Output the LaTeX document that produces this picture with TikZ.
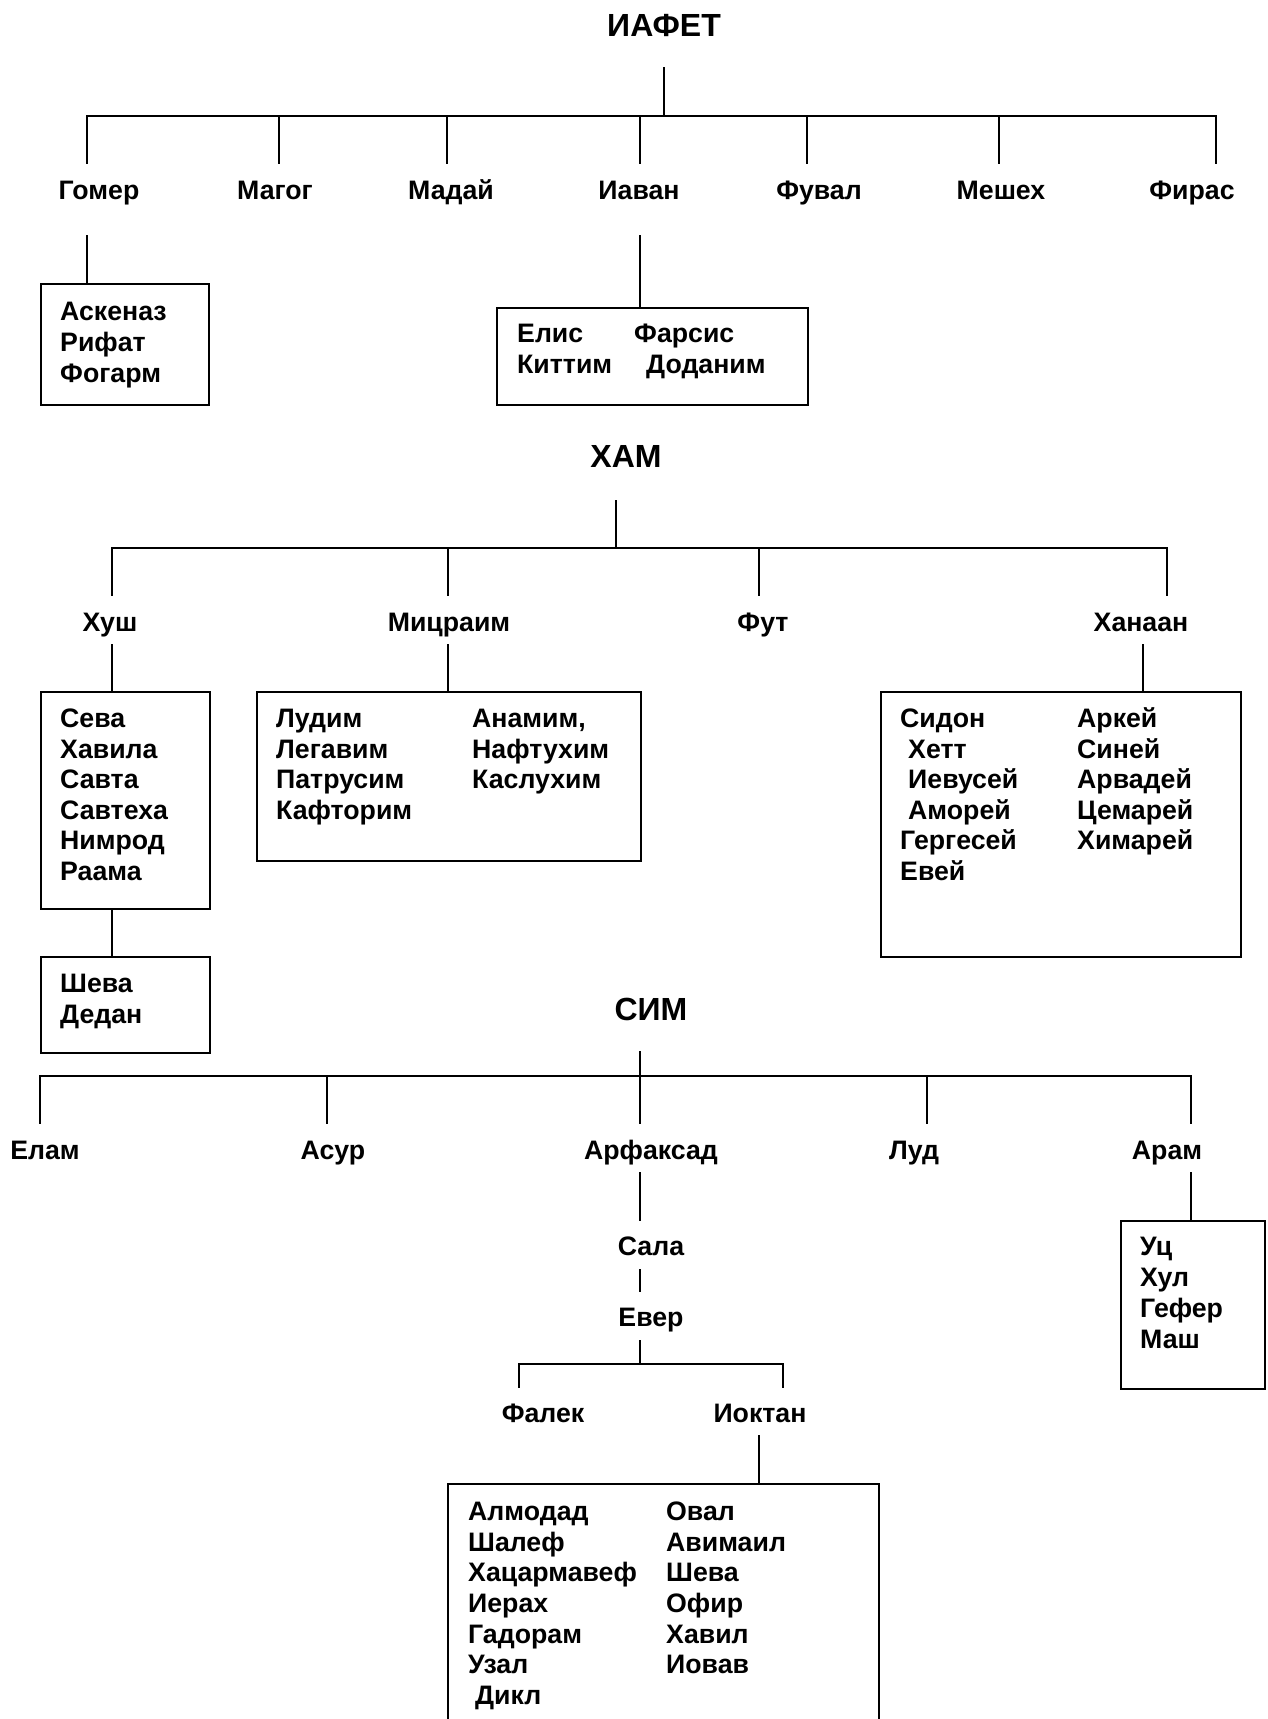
\documentclass[tikz,border=0pt]{standalone}
\usepackage{fontspec}
\setmainfont{Liberation Sans}

\begin{document}
\begin{tikzpicture}[x=1pt, y=-1pt,
        person/.style={font=\fontsize{26.7}{31}\selectfont\bfseries, inner sep=0pt, anchor=base},
        founder/.style={font=\fontsize{32}{38}\selectfont\bfseries, inner sep=0pt, anchor=base},
        entry/.style={person, anchor=base west},
        family/.style={draw, line width=2pt, inner sep=0pt, anchor=north west},
        tie/.style={line width=1.5pt}]
        \useasboundingbox (0,0) rectangle (1267,1719);

        % Iafet
        \node[founder] (iafet) at (664,36) {ИАФЕТ};
        \coordinate (iafet-s) at (664,67);
        \coordinate (iafet-j) at (664,116);
        \draw[tie] (iafet-s) -- (iafet-j);

        % sons of Iafet
        \node[person] (gomer) at (99,199) {Гомер};
        \node[person] (magog) at (275,199) {Магог};
        \node[person] (madai) at (451,199) {Мадай};
        \node[person] (iavan) at (639,199) {Иаван};
        \node[person] (fuval) at (819,199) {Фувал};
        \node[person] (meshekh) at (1001,199) {Мешех};
        \node[person] (firas) at (1192,199) {Фирас};
        \coordinate (gomer-t) at (87,164);
        \coordinate (magog-t) at (279,164);
        \coordinate (madai-t) at (447,164);
        \coordinate (iavan-t) at (640,164);
        \coordinate (fuval-t) at (807,164);
        \coordinate (meshekh-t) at (999,164);
        \coordinate (firas-t) at (1216,164);
        \foreach \s in {gomer,magog,madai,iavan,fuval,meshekh,firas}
            \draw[tie] (iafet-j) -| (\s-t);

        % boxes under Gomer and Iavan
        \coordinate (gomer-b) at (87,235);
        \node[family, minimum width=168pt, minimum height=121pt] (gomer-box) at (40,283) {};
        \draw[tie] (gomer-b) -- (gomer-b |- gomer-box.north);
        \node[entry] (askenaz) at (60,320) {Аскеназ};
        \node[entry] (rifat) at (60,351) {Рифат};
        \node[entry] (fogarm) at (60,382) {Фогарм};

        \coordinate (iavan-b) at (640,235);
        \node[family, minimum width=311pt, minimum height=97pt] (iavan-box) at (496,307) {};
        \draw[tie] (iavan-b) -- (iavan-b |- iavan-box.north);
        \node[entry] (elis) at (517,342) {Елис};
        \node[entry] (farsis) at (634,342) {Фарсис};
        \node[entry] (kittim) at (517,373) {Киттим};
        \node[entry] (dodanim) at (646,373) {Доданим};

        % Kham
        \node[founder] (kham) at (626,467) {ХАМ};
        \coordinate (kham-s) at (616,500);
        \coordinate (kham-j) at (616,548);
        \draw[tie] (kham-s) -- (kham-j);

        % sons of Kham
        \node[person] (khush) at (110,631) {Хуш};
        \node[person] (mitsraim) at (449,631) {Мицраим};
        \node[person] (fut) at (763,631) {Фут};
        \node[person] (khanaan) at (1141,631) {Ханаан};
        \coordinate (khush-t) at (112,596);
        \coordinate (mitsraim-t) at (448,596);
        \coordinate (fut-t) at (759,596);
        \coordinate (khanaan-t) at (1167,596);
        \foreach \s in {khush,mitsraim,fut,khanaan}
            \draw[tie] (kham-j) -| (\s-t);

        % Khush and his line
        \coordinate (khush-b) at (112,644);
        \node[family, minimum width=169pt, minimum height=217pt] (khush-box) at (40,691) {};
        \draw[tie] (khush-b) -- (khush-b |- khush-box.north);
        \node[entry] (seva) at (60,727) {Сева};
        \node[entry] (khavila) at (60,758) {Хавила};
        \node[entry] (savta) at (60,788) {Савта};
        \node[entry] (savtekha) at (60,819) {Савтеха};
        \node[entry] (nimrod) at (60,849) {Нимрод};
        \node[entry] (raama) at (60,880) {Раама};
        \node[family, minimum width=169pt, minimum height=96pt] (raama-box) at (40,956) {};
        \draw[tie] (khush-b |- khush-box.south) -- (khush-b |- raama-box.north);
        \node[entry] (sheva) at (60,992) {Шева};
        \node[entry] (dedan) at (60,1023) {Дедан};

        % Mitsraim
        \coordinate (mitsraim-b) at (448,644);
        \node[family, minimum width=384pt, minimum height=169pt] (mitsraim-box) at (256,691) {};
        \draw[tie] (mitsraim-b) -- (mitsraim-b |- mitsraim-box.north);
        \node[entry] (ludim) at (276,727) {Лудим};
        \node[entry] (legavim) at (276,758) {Легавим};
        \node[entry] (patrusim) at (276,788) {Патрусим};
        \node[entry] (kaftorim) at (276,819) {Кафторим};
        \node[entry] (anamim) at (472,727) {Анамим,};
        \node[entry] (naftukhim) at (472,758) {Нафтухим};
        \node[entry] (kaslukhim) at (472,788) {Каслухим};

        % Khanaan
        \coordinate (khanaan-b) at (1143,644);
        \node[family, minimum width=360pt, minimum height=265pt] (khanaan-box) at (880,691) {};
        \draw[tie] (khanaan-b) -- (khanaan-b |- khanaan-box.north);
        \node[entry] (sidon) at (900,727) {Сидон};
        \node[entry] (khett) at (908,758) {Хетт};
        \node[entry] (ievusei) at (908,788) {Иевусей};
        \node[entry] (amorei) at (908,819) {Аморей};
        \node[entry] (gergesei) at (900,849) {Гергесей};
        \node[entry] (evei) at (900,880) {Евей};
        \node[entry] (arkei) at (1077,727) {Аркей};
        \node[entry] (sinei) at (1077,758) {Синей};
        \node[entry] (arvadei) at (1077,788) {Арвадей};
        \node[entry] (tsemarei) at (1077,819) {Цемарей};
        \node[entry] (khimarei) at (1077,849) {Химарей};

        % Sim
        \node[founder] (sim) at (651,1020) {СИМ};
        \coordinate (sim-s) at (640,1051);
        \coordinate (sim-j) at (640,1076);
        \draw[tie] (sim-s) -- (sim-j);

        % sons of Sim
        \node[person] (elam) at (45,1159) {Елам};
        \node[person] (asur) at (333,1159) {Асур};
        \node[person] (arfaksad) at (651,1159) {Арфаксад};
        \node[person] (lud) at (914,1159) {Луд};
        \node[person] (aram) at (1167,1159) {Арам};
        \coordinate (elam-t) at (40,1124);
        \coordinate (asur-t) at (327,1124);
        \coordinate (arfaksad-t) at (640,1124);
        \coordinate (lud-t) at (927,1124);
        \coordinate (aram-t) at (1191,1124);
        \foreach \s in {elam,asur,arfaksad,lud,aram}
            \draw[tie] (sim-j) -| (\s-t);

        % Arfaksad down to Ever
        \node[person] (sala) at (651,1255) {Сала};
        \node[person] (ever) at (651,1326) {Евер};
        \coordinate (arfaksad-b) at (640,1172);
        \coordinate (sala-t) at (640,1221);
        \coordinate (sala-b) at (640,1269);
        \coordinate (ever-t) at (640,1292);
        \draw[tie] (arfaksad-b) -- (sala-t);
        \draw[tie] (sala-b) -- (ever-t);

        % sons of Ever
        \coordinate (ever-s) at (640,1340);
        \coordinate (ever-j) at (640,1364);
        \draw[tie] (ever-s) -- (ever-j);
        \node[person] (falek) at (543,1422) {Фалек};
        \node[person] (ioktan) at (760,1422) {Иоктан};
        \coordinate (falek-t) at (519,1388);
        \coordinate (ioktan-t) at (783,1388);
        \draw[tie] (ever-j) -| (falek-t);
        \draw[tie] (ever-j) -| (ioktan-t);

        % Ioktan box, open at the foot of the page
        \coordinate (ioktan-b) at (759,1435);
        \coordinate (ioktan-nw) at (448,1484);
        \coordinate (ioktan-ne) at (879,1484);
        \coordinate (ioktan-sw) at (448,1719);
        \coordinate (ioktan-se) at (879,1719);
        \draw[line width=2pt] (ioktan-sw) -- (ioktan-nw) -- (ioktan-ne) -- (ioktan-se);
        \draw[tie] (ioktan-b) -- (ioktan-b |- ioktan-nw);
        \node[entry] (almodad) at (468,1520) {Алмодад};
        \node[entry] (shalef) at (468,1551) {Шалеф};
        \node[entry] (khatsarmavef) at (468,1581) {Хацармавеф};
        \node[entry] (ierakh) at (468,1612) {Иерах};
        \node[entry] (gadoram) at (468,1643) {Гадорам};
        \node[entry] (uzal) at (468,1673) {Узал};
        \node[entry] (dikl) at (475,1704) {Дикл};
        \node[entry] (oval) at (666,1520) {Овал};
        \node[entry] (avimail) at (666,1551) {Авимаил};
        \node[entry] (sheva2) at (666,1581) {Шева};
        \node[entry] (ofir) at (666,1612) {Офир};
        \node[entry] (khavil) at (666,1643) {Хавил};
        \node[entry] (iovav) at (666,1673) {Иовав};

        % Aram
        \coordinate (aram-b) at (1191,1172);
        \node[family, minimum width=144pt, minimum height=168pt] (aram-box) at (1120,1220) {};
        \draw[tie] (aram-b) -- (aram-b |- aram-box.north);
        \node[entry] (uts) at (1140,1255) {Уц};
        \node[entry] (khul) at (1140,1286) {Хул};
        \node[entry] (gefer) at (1140,1317) {Гефер};
        \node[entry] (mash) at (1140,1348) {Маш};
\end{tikzpicture}
\end{document}
